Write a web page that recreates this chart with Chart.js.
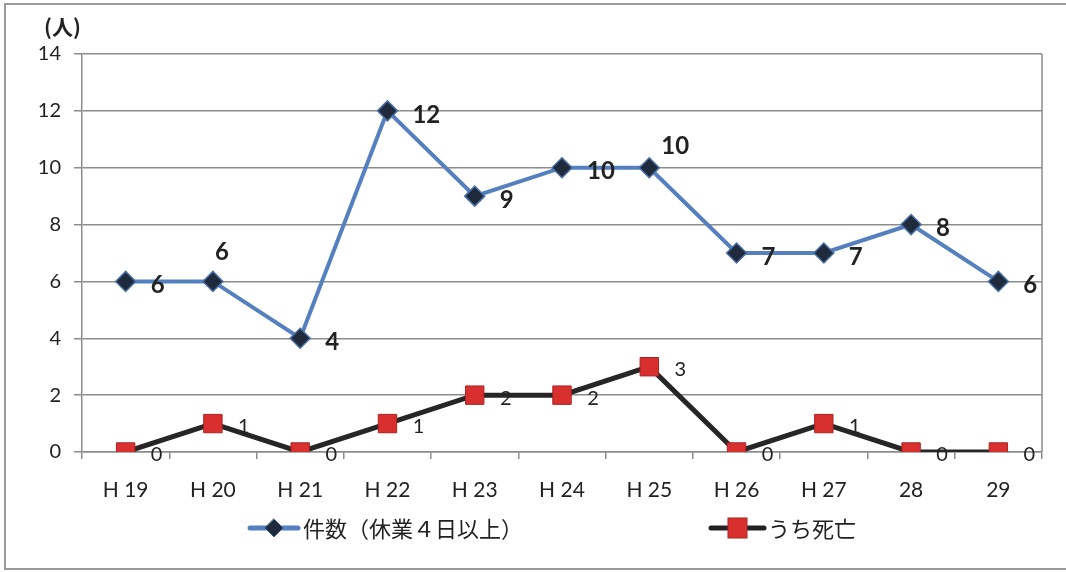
<!DOCTYPE html>
<html>
<head>
<meta charset="utf-8">
<script src="https://cdn.jsdelivr.net/npm/chart.js@4"></script>
<style>
  html, body { margin: 0; padding: 0; background: #fff; }
  #wrap { width: 1066px; height: 572px; position: relative; }
</style>
</head>
<body>
<div id="wrap"><canvas id="accChart" width="1066" height="572"></canvas></div>
<script>
const labels = ["H 19", "H 20", "H 21", "H 22", "H 23", "H 24", "H 25", "H 26", "H 27", "28", "29"];
const casesData = [6, 6, 4, 12, 9, 10, 10, 7, 7, 8, 6];
const deathsData = [0, 1, 0, 1, 2, 2, 3, 0, 1, 0, 0];
// where each number sits next to its point: r = right, t = above, tr = above right
const casesLabelPos = ["r", "t", "r", "r", "r", "r", "tr", "r", "r", "r", "r"];
const seriesNames = ["件数（休業４日以上）", "うち死亡"];
const yTicks = [0, 2, 4, 6, 8, 10, 12, 14];

const numFont = "Lato, 'Noto Sans', sans-serif";
const jpFont = "'Noto Sans CJK JP', sans-serif";
const blue = "#5580bf";
const red = "#d8302e";

const extras = {
  id: "extras",
  beforeDraw(chart) {
    const { ctx } = chart;
    ctx.save();
    ctx.fillStyle = "#fff";
    ctx.fillRect(0, 0, chart.width, chart.height);
    // outer frame
    ctx.strokeStyle = "#9a9a9a";
    ctx.lineWidth = 2;
    ctx.beginPath();
    ctx.moveTo(1066, 4);
    ctx.lineTo(5, 4);
    ctx.lineTo(5, 569);
    ctx.lineTo(1066, 569);
    ctx.stroke();
    ctx.restore();
  },
  afterDatasetsDraw(chart) {
    const { ctx, chartArea: { top, bottom, right } } = chart;
    ctx.save();
    // right border of plot area
    ctx.strokeStyle = "#8c8c8c";
    ctx.lineWidth = 1.5;
    ctx.beginPath();
    ctx.moveTo(right, top);
    ctx.lineTo(right, bottom);
    ctx.stroke();

    // value labels, series 1
    ctx.fillStyle = "#222";
    ctx.font = "bold 24px " + numFont;
    ctx.textBaseline = "middle";
    const m0 = chart.getDatasetMeta(0).data;
    for (let i = 0; i < casesData.length; i++) {
      const p = m0[i];
      const pos = casesLabelPos[i];
      if (pos === "t") {
        ctx.textAlign = "center";
        ctx.fillText(casesData[i], p.x + 9, p.y - 29);
      } else if (pos === "tr") {
        ctx.textAlign = "left";
        ctx.fillText(casesData[i], p.x + 12, p.y - 21);
      } else {
        ctx.textAlign = "left";
        ctx.fillText(casesData[i], p.x + 25, p.y + 4);
      }
    }
    // value labels, series 2
    ctx.font = "20px " + numFont;
    ctx.textAlign = "center";
    const m1 = chart.getDatasetMeta(1).data;
    for (let i = 0; i < deathsData.length; i++) {
      ctx.fillText(deathsData[i], m1[i].x + 31, m1[i].y + 3);
    }

    // unit
    ctx.font = "bold 21px " + jpFont;
    ctx.textAlign = "left";
    ctx.fillText("(人)", 44, 27);

    // legend
    const ly = 528;
    ctx.lineCap = "round";
    ctx.strokeStyle = blue;
    ctx.lineWidth = 5;
    ctx.beginPath();
    ctx.moveTo(250, ly);
    ctx.lineTo(298, ly);
    ctx.stroke();
    ctx.fillStyle = "#1f2b3c";
    ctx.strokeStyle = "#3d5f8f";
    ctx.lineWidth = 1;
    ctx.beginPath();
    ctx.moveTo(274, ly - 9);
    ctx.lineTo(283, ly);
    ctx.lineTo(274, ly + 9);
    ctx.lineTo(265, ly);
    ctx.closePath();
    ctx.fill();
    ctx.stroke();

    ctx.strokeStyle = "#222";
    ctx.lineWidth = 5;
    ctx.beginPath();
    ctx.moveTo(711, ly);
    ctx.lineTo(764, ly);
    ctx.stroke();
    ctx.fillStyle = red;
    ctx.strokeStyle = "#b02020";
    ctx.lineWidth = 1;
    ctx.fillRect(728, ly - 10, 19, 20);
    ctx.strokeRect(728, ly - 10, 19, 20);

    ctx.fillStyle = "#222";
    ctx.font = "22px " + jpFont;
    ctx.fillText(seriesNames[0], 303, ly + 1);
    ctx.fillText(seriesNames[1], 768, ly + 1);
    ctx.restore();
  }
};

new Chart(document.getElementById("accChart"), {
  type: "line",
  data: {
    labels: labels,
    datasets: [
      {
        label: seriesNames[0],
        data: casesData,
        borderColor: blue,
        borderWidth: 4,
        pointStyle: "rectRot",
        pointRadius: 10,
        pointBackgroundColor: "#1f2b3c",
        pointBorderColor: "#4a6fa5",
        pointBorderWidth: 1.5,
        tension: 0
      },
      {
        label: seriesNames[1],
        data: deathsData,
        borderColor: "#262626",
        borderWidth: 5,
        pointStyle: "rect",
        pointRadius: 13,
        pointBackgroundColor: red,
        pointBorderColor: "#b02020",
        pointBorderWidth: 1,
        tension: 0
      }
    ]
  },
  plugins: [extras],
  options: {
    responsive: false,
    animation: false,
    devicePixelRatio: 1,
    layout: { padding: { top: 54, right: 24, bottom: 64, left: 0 } },
    plugins: {
      legend: { display: false },
      tooltip: { enabled: false }
    },
    scales: {
      x: {
        offset: true,
        afterFit(scale) { scale.height = 56; },
        grid: {
          offset: true,
          drawOnChartArea: false,
          drawTicks: true,
          tickLength: 7,
          color: "#8c8c8c",
          lineWidth: 1.5
        },
        border: { color: "#8c8c8c", width: 1.5 },
        ticks: {
          color: "#222",
          font: { family: numFont, size: 21 },
          padding: 19,
          maxRotation: 0
        }
      },
      y: {
        min: 0,
        max: 14,
        afterFit(scale) { scale.width = 82; },
        afterBuildTicks(scale) { scale.ticks = yTicks.map(v => ({ value: v })); },
        grid: {
          color: "#8c8c8c",
          lineWidth: 1.5,
          tickLength: 8
        },
        border: { color: "#8c8c8c", width: 1.5 },
        ticks: {
          color: "#222",
          font: { family: numFont, size: 20 },
          padding: 13
        }
      }
    }
  }
});
</script>
</body>
</html>
